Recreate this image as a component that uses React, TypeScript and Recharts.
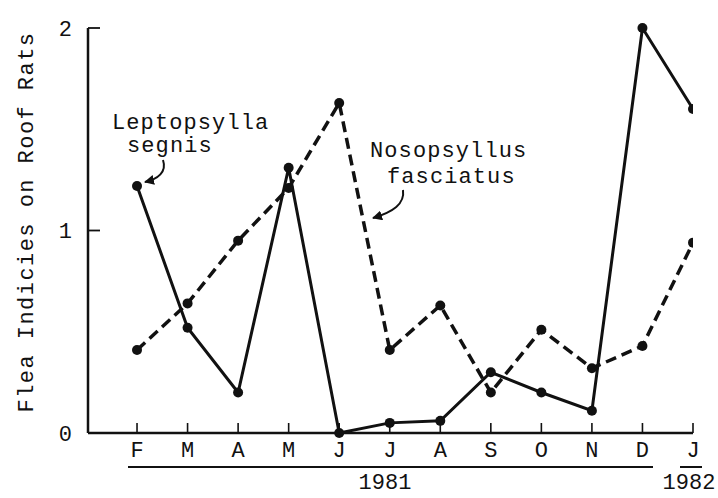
import React from 'react';
import { LineChart, Line, XAxis, YAxis } from 'recharts';

const months = ['F', 'M', 'A', 'M', 'J', 'J', 'A', 'S', 'O', 'N', 'D', 'J'];
const leptopsylla = [1.22, 0.52, 0.2, 1.31, 0.0, 0.05, 0.06, 0.3, 0.2, 0.11, 2.0, 1.6];
const nosopsyllus = [0.41, 0.64, 0.95, 1.21, 1.63, 0.41, 0.63, 0.2, 0.51, 0.32, 0.43, 0.94];
const yTicks = [0, 1, 2];
const xTicks = months.map((_, i) => i);
const yearLabels = ['1981', '1982'];
const yTitle = 'Flea Indicies on Roof Rats';
const seriesLabels = [['Leptopsylla', 'segnis'], ['Nosopsyllus', 'fasciatus']];

const data = months.map((m, i) => ({ idx: i, month: m, lepto: leptopsylla[i], noso: nosopsyllus[i] }));

const FONT = "'Liberation Mono', 'DejaVu Sans Mono', monospace";
const INK = '#111';

export default function App() {
  const txt = { fontFamily: FONT, fontSize: 22, fill: INK, letterSpacing: 1.1 } as any;
  const yearTxt = { fontFamily: FONT, fontSize: 22, fill: INK } as any;
  return (
    <div style={{ position: 'absolute', left: 0, top: 0, width: 718, height: 498, background: '#fff' }}>
      <LineChart width={718} height={498} data={data} margin={{ top: 28, right: 25, bottom: 0, left: 0 }}>
        <XAxis
          type="number"
          dataKey="idx"
          domain={[-0.97, 11]}
          allowDataOverflow
          ticks={xTicks}
          tickFormatter={(v: number) => months[v]}
          interval={0}
          height={65}
          tickSize={-10}
          tickMargin={18}
          axisLine={{ stroke: INK, strokeWidth: 2.5 }}
          tickLine={{ stroke: INK, strokeWidth: 1.6 }}
          tick={{ fontFamily: FONT, fontSize: 22, fill: INK }}
        />
        <YAxis
          type="number"
          domain={[0, 2]}
          ticks={yTicks}
          width={88}
          tickSize={-12}
          tickMargin={28}
          axisLine={{ stroke: INK, strokeWidth: 2.5 }}
          tickLine={{ stroke: INK, strokeWidth: 1.8 }}
          tick={{ fontFamily: FONT, fontSize: 22, fill: INK }}
        />
        <Line
          type="linear"
          dataKey="noso"
          stroke={INK}
          strokeWidth={3.5}
          strokeDasharray="11 6"
          dot={{ r: 5, fill: INK, stroke: INK, strokeWidth: 0 }}
          activeDot={false}
          isAnimationActive={false}
        />
        <Line
          type="linear"
          dataKey="lepto"
          stroke={INK}
          strokeWidth={3}
          dot={{ r: 5, fill: INK, stroke: INK, strokeWidth: 0 }}
          activeDot={false}
          isAnimationActive={false}
        />
      </LineChart>
      <svg width={718} height={498} style={{ position: 'absolute', left: 0, top: 0, pointerEvents: 'none' }}>
        <defs>
          <marker id="ah" viewBox="0 0 10 10" refX="9" refY="5" markerWidth="5" markerHeight="5" orient="auto" markerUnits="strokeWidth">
            <path d="M0,0 L10,5 L0,10 z" fill={INK} />
          </marker>
        </defs>
        <text x={112} y={129} style={txt}>{seriesLabels[0][0]}</text>
        <text x={127} y={152} style={txt}>{seriesLabels[0][1]}</text>
        <path d="M163,160 C167,172 158,179 145,182" stroke={INK} strokeWidth={2} fill="none" markerEnd="url(#ah)" />
        <text x={370} y={157} style={txt}>{seriesLabels[1][0]}</text>
        <text x={387} y={183} style={txt}>{seriesLabels[1][1]}</text>
        <path d="M403,190 C405,204 393,212 373,218" stroke={INK} strokeWidth={2} fill="none" markerEnd="url(#ah)" />
        <line x1={128} y1={467} x2={653} y2={467} stroke={INK} strokeWidth={2} />
        <line x1={680} y1={467} x2={702} y2={467} stroke={INK} strokeWidth={2} />
        <text x={385} y={489} textAnchor="middle" style={yearTxt}>{yearLabels[0]}</text>
        <text x={689} y={489} textAnchor="middle" style={yearTxt}>{yearLabels[1]}</text>
        <text transform="translate(33,222) rotate(-90)" textAnchor="middle" style={{ ...txt, letterSpacing: 1.45 }}>{yTitle}</text>
      </svg>
    </div>
  );
}
